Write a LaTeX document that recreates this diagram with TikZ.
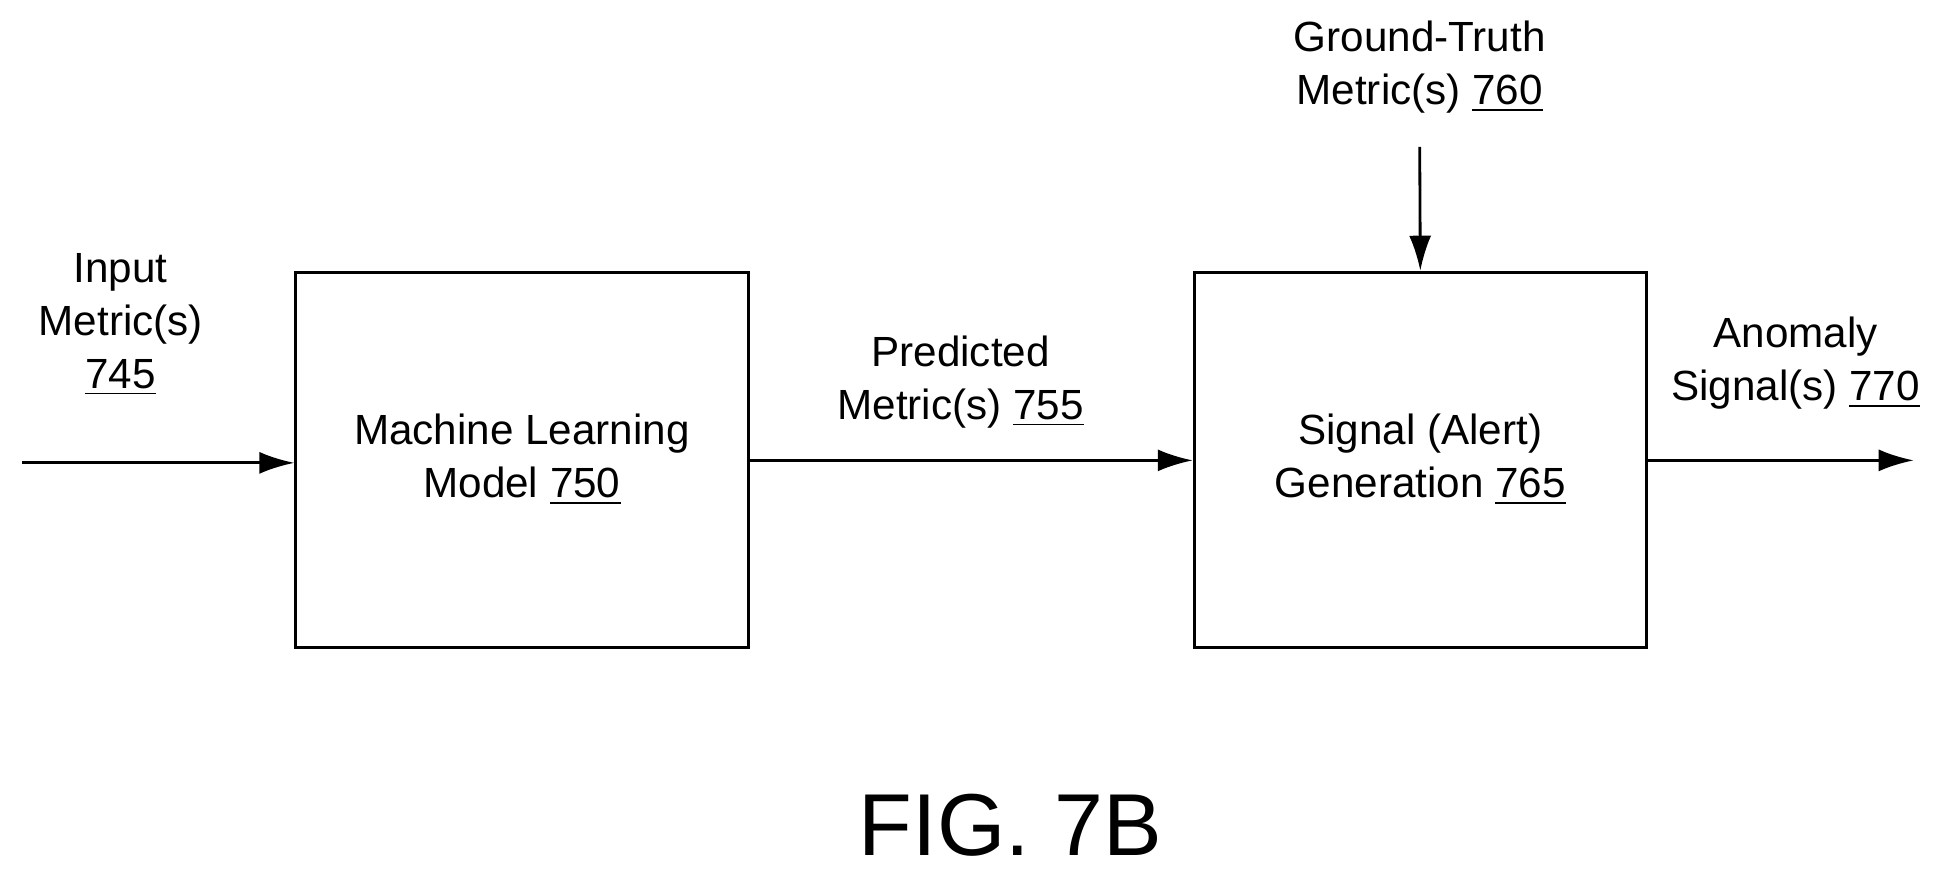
\documentclass[tikz,border=0pt]{standalone}
\usepackage{fontspec}
\setmainfont{Liberation Sans}
\usetikzlibrary{positioning,arrows.meta}
\tikzset{
  block/.style={draw,thick,minimum width=4.52cm,minimum height=3.75cm,align=center,font=\fontsize{12}{15}\selectfont},
  lbl/.style={align=center,font=\fontsize{12}{15}\selectfont},
  flow/.style={thick,-{Latex[length=3.5mm,width=2.2mm]}}
}
\begin{document}
\begin{tikzpicture}[x=0.01244cm,y=-0.01244cm]
\useasboundingbox (0,0) rectangle (1568,701);
% blocks
\node[block] (ml) at (419.5,369.5) {Machine Learning\\Model \underline{750}};
\node[block] (sig) at (1141.5,369.5) {Signal (Alert)\\Generation \underline{765}};
% free ends
\coordinate (in) at (18,372);
\coordinate (out) at (1538,370);
\coordinate (gt) at (1141,118);
% labels
\node[lbl] (inlbl) at (97,261) {Input\\Metric(s)\\\underline{745}};
\node[lbl] (pred) at (772,307) {Predicted\\Metric(s) \underline{755}};
\node[lbl] (gtlbl) at (1141,54) {Ground-Truth\\Metric(s) \underline{760}};
\node[lbl] (anom) at (1443,292) {Anomaly\\Signal(s) \underline{770}};
\node[font=\fontsize{25}{30}\selectfont] (fig) at (812,663) {FIG. 7B};
% connectors
\draw[flow] (in) -- (in -| ml.west);
\draw[flow] (ml.east |- 0,370) -- (sig.west |- 0,370);
\draw[flow] (sig.east |- out) -- (out);
\draw[flow] (gt) -- (sig.north);
\end{tikzpicture}
\end{document}
